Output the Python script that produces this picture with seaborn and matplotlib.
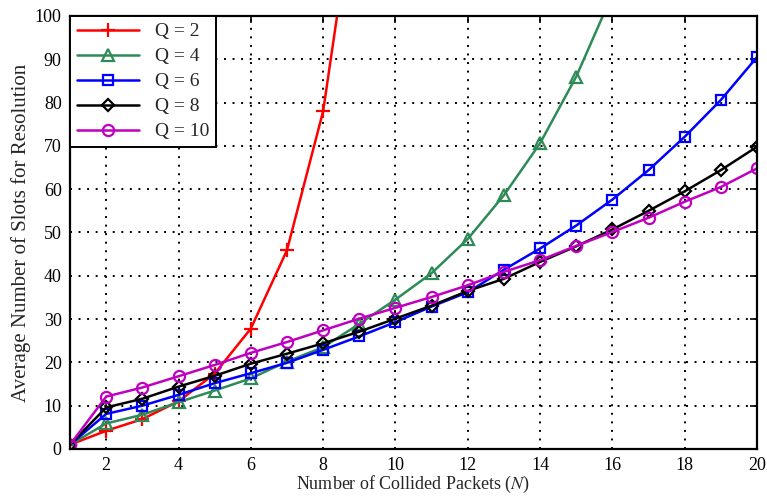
import numpy as np
import pandas as pd
import matplotlib
matplotlib.use("Agg")
import matplotlib.pyplot as plt
import seaborn as sns

# ---- data ----
n_q2 = [1, 2, 3, 4, 5, 6, 7, 8, 9]
q2 = [1.0, 4.2, 6.9, 11.0, 17.4, 27.8, 45.9, 78.0, 135.0]

n_all = list(range(1, 21))
n_q4 = list(range(1, 17))
q4 = [1.0, 5.9, 7.9, 10.8, 13.5, 16.3, 20.2, 23.5, 28.9, 34.5,
      40.6, 48.5, 58.6, 70.6, 86.0, 105.0]
q6 = [1.0, 8.1, 10.0, 12.5, 15.2, 17.5, 19.9, 22.9, 26.0, 29.3,
      32.9, 36.2, 41.4, 46.3, 51.6, 57.6, 64.4, 72.1, 80.6, 90.5]
q8 = [1.0, 9.6, 11.6, 14.4, 16.9, 19.7, 22.0, 24.4, 27.1, 30.1,
      33.1, 36.5, 39.3, 43.2, 46.8, 50.7, 55.0, 59.5, 64.4, 69.8]
q10 = [1.0, 12.1, 14.2, 16.8, 19.4, 22.2, 24.7, 27.4, 30.1, 32.6,
       35.1, 37.8, 40.9, 43.6, 46.9, 50.1, 53.4, 57.1, 60.5, 64.8]

labels = ["Q = 2", "Q = 4", "Q = 6", "Q = 8", "Q = 10"]
xs = [n_q2, n_q4, n_all, n_all, n_all]
ys = [q2, q4, q6, q8, q10]
colors = ["#FF0000", "#2E8B57", "#0000FF", "#000000", "#C000C0"]
markers = ["+", "^", "s", "D", "o"]
msizes = [10, 8, 7.5, 6.5, 8]

sns.set_style("white")
plt.rcParams["font.family"] = ["Liberation Serif", "DejaVu Serif"]
plt.rcParams["mathtext.fontset"] = "stix"

fig = plt.figure(figsize=(7.67, 4.98), dpi=100)
ax = fig.add_axes([0.0913, 0.0984, 0.987 - 0.0913, 0.968 - 0.0984])

handles = []
for x, y, lab, c, m, ms in zip(xs, ys, labels, colors, markers, msizes):
    df = pd.DataFrame({"N": x, "v": y})
    sns.lineplot(data=df, x="N", y="v", ax=ax, color=c, marker=m,
                 markersize=ms, markerfacecolor="none", markeredgecolor=c,
                 markeredgewidth=1.6, linewidth=1.8, label=lab, legend=False)
    handles.append(ax.lines[-1])

ax.set_xlim(1, 20)
ax.set_ylim(0, 100)
ax.set_xticks(np.arange(2, 21, 2))
ax.set_yticks(np.arange(0, 101, 10))
ax.grid(True, color="black", linestyle=(0, (1, 3.4)), linewidth=1.4)
for s in ax.spines.values():
    s.set_visible(True)
    s.set_color("black")
    s.set_linewidth(1.6)
ax.tick_params(direction="in", length=5, width=1.2, top=True, right=True,
               labelsize=13, colors="black", pad=6)
ax.set_xlabel("Number of Collided Packets ($\\mathit{N}$)", fontsize=13, labelpad=0)
ax.set_ylabel("Average Number of Slots for Resolution", fontsize=15, labelpad=3)

leg = ax.legend(handles=handles, labels=labels, loc="upper left",
                fontsize=14, frameon=True, fancybox=False, edgecolor="black",
                framealpha=1, borderaxespad=0, handlelength=3.2,
                labelspacing=0.38, borderpad=0.35, handletextpad=0.8,
                numpoints=1)
leg.get_frame().set_linewidth(1.4)

fig.savefig("out.png", dpi=100)
